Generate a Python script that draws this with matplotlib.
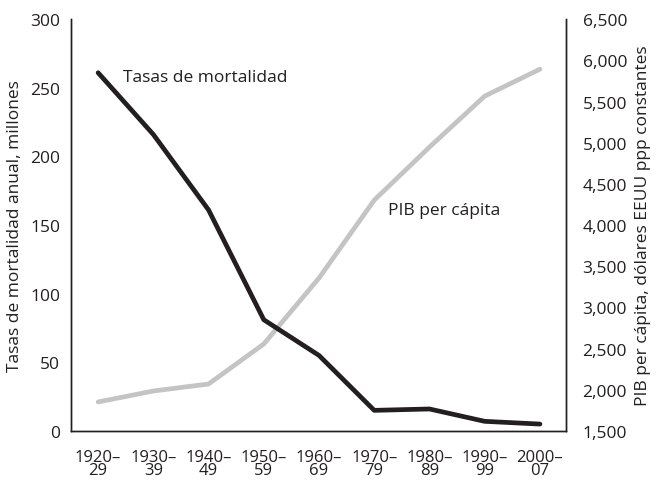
import matplotlib.pyplot as plt

plt.rcParams['font.family'] = ['Open Sans', 'DejaVu Sans']

decades = ["1920–\n29", "1930–\n39", "1940–\n49", "1950–\n59", "1960–\n69",
           "1970–\n79", "1980–\n89", "1990–\n99", "2000–\n07"]
mortalidad = [261, 216, 161, 81, 55, 15, 16, 7, 5]
pib = [1852, 1985, 2070, 2556, 3357, 4303, 4947, 5566, 5893]

txt = "#231f20"
fs = 12.5
x = list(range(len(decades)))

fig = plt.figure(figsize=(6.58, 4.81), dpi=100)
ax = fig.add_axes([0.108, 0.102, 0.752, 0.856])
ax2 = ax.twinx()

ax2.plot(x, pib, color="#c4c4c4", lw=3.4, solid_capstyle="round", zorder=1)
ax.plot(x, mortalidad, color=txt, lw=3.4, solid_capstyle="round", zorder=3)
ax.set_zorder(ax2.get_zorder() + 1)
ax.patch.set_visible(False)

ax.set_xlim(-0.49, 8.47)
ax.set_ylim(0, 300)
ax2.set_ylim(1500, 6500)
ax.set_xticks(x)
ax.set_xticklabels(decades, linespacing=0.78, fontsize=12)
ax.set_yticks(range(0, 301, 50))
ax2.set_yticks(range(1500, 6501, 500))
ax2.set_yticklabels([f"{v:,}" for v in range(1500, 6501, 500)])

for a in (ax, ax2):
    a.spines["top"].set_visible(False)
    for s in a.spines.values():
        s.set_color(txt)
        s.set_linewidth(1)
    a.tick_params(length=0, labelsize=fs, colors=txt)
ax.tick_params(axis="y", pad=8)
ax.tick_params(axis="x", pad=13, labelsize=12)
ax2.tick_params(axis="y", pad=12)

ax.set_ylabel("Tasas de mortalidad anual, millones", fontsize=fs, color=txt, labelpad=5)
ax2.set_ylabel("PIB per cápita, dólares EEUU ppp constantes", fontsize=fs, color=txt, labelpad=6)

ax.text(0.45, 258, "Tasas de mortalidad", fontsize=fs, color=txt, va="center")
ax2.text(5.25, 4180, "PIB per cápita", fontsize=fs, color=txt, va="center")

fig.savefig("out.png", dpi=100)
